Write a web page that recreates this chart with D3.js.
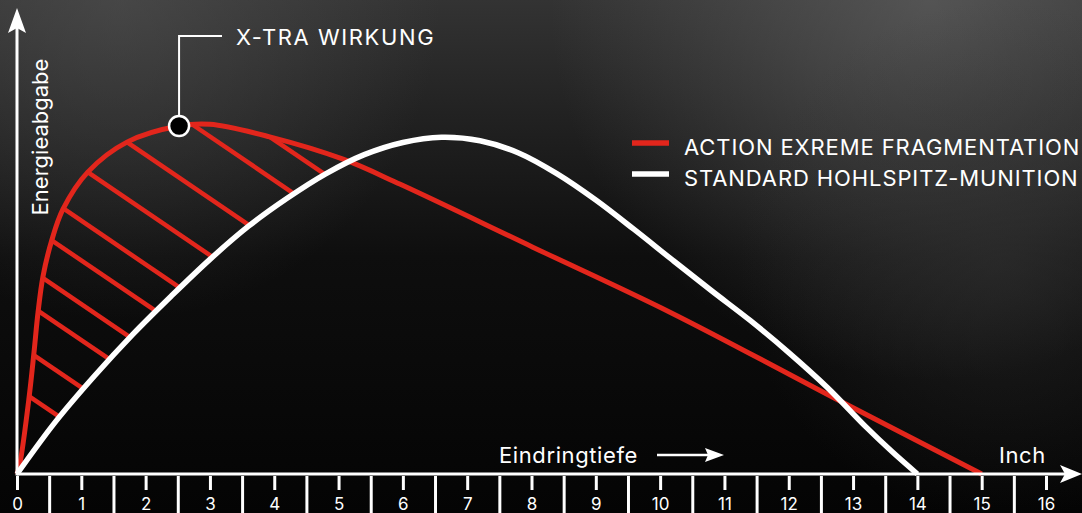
<!DOCTYPE html>
<html>
<head>
<meta charset="utf-8">
<script src="https://cdn.jsdelivr.net/npm/d3@7"></script>
<style>
  body { margin: 0; background: #000; overflow: hidden; }
  text { font-family: Inter, "Noto Sans", sans-serif; fill: #fff; }
</style>
</head>
<body>
<div id="chart"></div>
<script>
// Eindringtiefe (Inch) / Energieabgabe (relativ)
const redX   = [0, 0.047, 0.187, 0.264, 0.327, 0.404, 0.544, 0.715, 1.10, 1.71, 2.52, 3.00, 3.93, 5.07, 5.96, 8.02, 10.16, 12.85, 15.0];
const redY   = [0, 3.2, 21.8, 34.8, 46.3, 56.6, 67.2, 75.9, 86.5, 95.1, 99.7, 100.2, 96.6, 90.2, 83.0, 65.0, 46.3, 20.4, 0];
const whiteX = [0, 0.6, 1.2, 1.8, 2.4, 3.0, 3.6, 4.2, 4.8, 5.4, 6.0, 6.6, 7.2, 7.8, 8.4, 9.0, 9.6, 10.2, 10.8, 11.4, 12.0, 12.6, 13.2, 13.6, 14.0];
const whiteY = [0, 15.0, 28.0, 40.0, 51.0, 61.5, 71.0, 79.0, 86.0, 91.5, 95.0, 96.5, 95.5, 92.0, 86.0, 78.5, 70.0, 61.2, 52.5, 44.0, 34.8, 24.8, 13.5, 6.5, 0];
// where the hatch lines leave the red curve
const hatchX = [0.19, 0.26, 0.33, 0.40, 0.54, 0.72, 1.10, 1.71, 2.72, 3.93];
const xTicks = [0, 1, 2, 3, 4, 5, 6, 7, 8, 9, 10, 11, 12, 13, 14, 15, 16];
const xHalfTicks = [0.5, 1.5, 2.5, 3.5, 4.5, 5.5, 6.5, 7.5, 8.5, 9.5, 10.5, 11.5, 12.5, 13.5, 14.5, 15.5];
const seriesNames = ["ACTION EXREME FRAGMENTATION", "STANDARD HOHLSPITZ-MUNITION"];
const markerX = 2.52;
const markerLabel = "X-TRA WIRKUNG";

const WIDTH = 1082, HEIGHT = 513;
const RED = "#e2261c";
const AXIS_Y = 474, AXIS_X = 17;
const HATCH_SLOPE = 0.68;

const svg = d3.select("#chart").append("svg")
  .attr("width", WIDTH)
  .attr("height", HEIGHT);

// background
const defs = svg.append("defs");
const lg = defs.append("linearGradient").attr("id", "bg").attr("x1", 0).attr("y1", 0).attr("x2", 0).attr("y2", 1);
lg.append("stop").attr("offset", "0%").attr("stop-color", "#333");
lg.append("stop").attr("offset", "22%").attr("stop-color", "#222");
lg.append("stop").attr("offset", "50%").attr("stop-color", "#0e0e0e");
lg.append("stop").attr("offset", "100%").attr("stop-color", "#040404");

function radial(id, cx, cy, r, col, op) {
  const g = defs.append("radialGradient").attr("id", id)
    .attr("gradientUnits", "userSpaceOnUse")
    .attr("cx", cx).attr("cy", cy).attr("r", r);
  g.append("stop").attr("offset", "0%").attr("stop-color", col).attr("stop-opacity", op);
  g.append("stop").attr("offset", "100%").attr("stop-color", col).attr("stop-opacity", 0);
}
radial("glowR", 930, 0, 380, "#6a6a6a", 0.6);
radial("glowL", 120, 0, 320, "#5a5a5a", 0.5);
radial("glowM", 1000, 260, 260, "#333", 0.5);

svg.append("rect").attr("width", WIDTH).attr("height", HEIGHT).attr("fill", "url(#bg)");
svg.append("rect").attr("width", WIDTH).attr("height", HEIGHT).attr("fill", "url(#glowR)");
svg.append("rect").attr("width", WIDTH).attr("height", HEIGHT).attr("fill", "url(#glowL)");
svg.append("rect").attr("width", WIDTH).attr("height", HEIGHT).attr("fill", "url(#glowM)");

const x = d3.scaleLinear().domain([0, 16]).range([AXIS_X, 1046]);
const y = d3.scaleLinear().domain([0, 100]).range([AXIS_Y, 125]);

const line = d3.line()
  .x(d => x(d[0]))
  .y(d => y(d[1]))
  .curve(d3.curveCatmullRom.alpha(0.5));

const redData = redX.map((v, i) => [v, redY[i]]);
const whiteData = whiteX.map((v, i) => [v, whiteY[i]]);

const hatchG = svg.append("g");

const redPath = svg.append("path")
  .attr("d", line(redData))
  .attr("fill", "none")
  .attr("stroke", RED)
  .attr("stroke-width", 5);

const whitePath = svg.append("path")
  .attr("d", line(whiteData))
  .attr("fill", "none")
  .attr("stroke", "#fff")
  .attr("stroke-width", 5.5);

// sample a path into a y-by-x lookup
function sampler(path) {
  const node = path.node();
  const len = node.getTotalLength();
  const pts = [];
  for (let l = 0; l <= len; l += 0.5) {
    const p = node.getPointAtLength(l);
    pts.push([p.x, p.y]);
  }
  return function(px) {
    for (let i = 1; i < pts.length; i++) {
      const a = pts[i - 1], b = pts[i];
      if ((a[0] - px) * (b[0] - px) <= 0 && a[0] !== b[0]) {
        return a[1] + (b[1] - a[1]) * (px - a[0]) / (b[0] - a[0]);
      }
    }
    return pts[pts.length - 1][1];
  };
}
const redAt = sampler(redPath);
const whiteAt = sampler(whitePath);

hatchX.forEach(function(hx) {
  const x0 = x(hx), y0 = redAt(x0);
  let x1 = x0, y1 = y0;
  while (y1 < whiteAt(x1) && x1 < WIDTH) {
    x1 += 0.25;
    y1 = y0 + (x1 - x0) * HATCH_SLOPE;
  }
  hatchG.append("line")
    .attr("x1", x0).attr("y1", y0)
    .attr("x2", x1).attr("y2", y1)
    .attr("stroke", RED)
    .attr("stroke-width", 4.5);
});

// axes
const axisG = svg.append("g");
axisG.append("line")
  .attr("x1", AXIS_X).attr("y1", AXIS_Y)
  .attr("x2", 1068).attr("y2", AXIS_Y)
  .attr("stroke", "#fff").attr("stroke-width", 3);
axisG.append("path")
  .attr("d", "M1082," + AXIS_Y + "L1060," + (AXIS_Y - 9) + "L1065," + AXIS_Y + "L1060," + (AXIS_Y + 9) + "Z")
  .attr("fill", "#fff");
axisG.append("line")
  .attr("x1", AXIS_X).attr("y1", AXIS_Y + 1.5)
  .attr("x2", AXIS_X).attr("y2", 28)
  .attr("stroke", "#fff").attr("stroke-width", 3);
axisG.append("path")
  .attr("d", "M" + AXIS_X + ",8L" + (AXIS_X - 9) + ",33L" + AXIS_X + ",28L" + (AXIS_X + 9) + ",33Z")
  .attr("fill", "#fff");

const ticks = svg.append("g")
  .attr("transform", "translate(0," + (AXIS_Y + 2) + ")")
  .call(d3.axisBottom(x).tickValues(xTicks).tickSize(14).tickPadding(8).tickFormat(d3.format("d")));
const halfTicks = svg.append("g")
  .attr("transform", "translate(0," + (AXIS_Y + 2) + ")")
  .call(d3.axisBottom(x).tickValues(xHalfTicks).tickSize(40).tickFormat(""));
svg.selectAll(".domain").remove();
svg.selectAll(".tick line").attr("stroke", "#fff").attr("stroke-width", 3);
ticks.selectAll(".tick text")
  .attr("fill", "#fff")
  .style("font-family", "Inter, 'Noto Sans', sans-serif")
  .style("font-size", "17px");

// axis titles
svg.append("text")
  .attr("transform", "translate(48,137) rotate(-90)")
  .attr("text-anchor", "middle")
  .style("font-size", "22px")
  .text("Energieabgabe");

svg.append("text")
  .attr("x", 499).attr("y", 463)
  .style("font-size", "22px")
  .style("letter-spacing", "0.6px")
  .text("Eindringtiefe");
svg.append("line")
  .attr("x1", 657).attr("y1", 455).attr("x2", 708).attr("y2", 455)
  .attr("stroke", "#fff").attr("stroke-width", 2.5);
svg.append("path")
  .attr("d", "M724,455L705,448L708,455L705,462Z")
  .attr("fill", "#fff");
svg.append("text")
  .attr("x", 999).attr("y", 463)
  .style("font-size", "22px")
  .style("letter-spacing", "0.6px")
  .text("Inch");

// legend
const legend = svg.append("g").attr("transform", "translate(632,143)");
[RED, "#fff"].forEach(function(c, i) {
  legend.append("line")
    .attr("x1", 0).attr("x2", 37)
    .attr("y1", i * 31).attr("y2", i * 31)
    .attr("stroke", c).attr("stroke-width", 5.5);
  legend.append("text")
    .attr("x", 52).attr("y", i * 31 + 12)
    .style("font-size", "22px")
    .style("letter-spacing", "0.9px")
    .text(seriesNames[i]);
});

// marker
const mx = x(markerX), my = redAt(mx);
svg.append("path")
  .attr("d", "M" + mx + "," + (my - 10) + "V36H222")
  .attr("fill", "none")
  .attr("stroke", "#fff").attr("stroke-width", 2);
svg.append("circle")
  .attr("cx", mx).attr("cy", my).attr("r", 10)
  .attr("fill", "#000")
  .attr("stroke", "#fff").attr("stroke-width", 2.5);
svg.append("text")
  .attr("x", 236).attr("y", 45)
  .style("font-size", "22px")
  .style("letter-spacing", "1.6px")
  .text(markerLabel);
</script>
</body>
</html>
